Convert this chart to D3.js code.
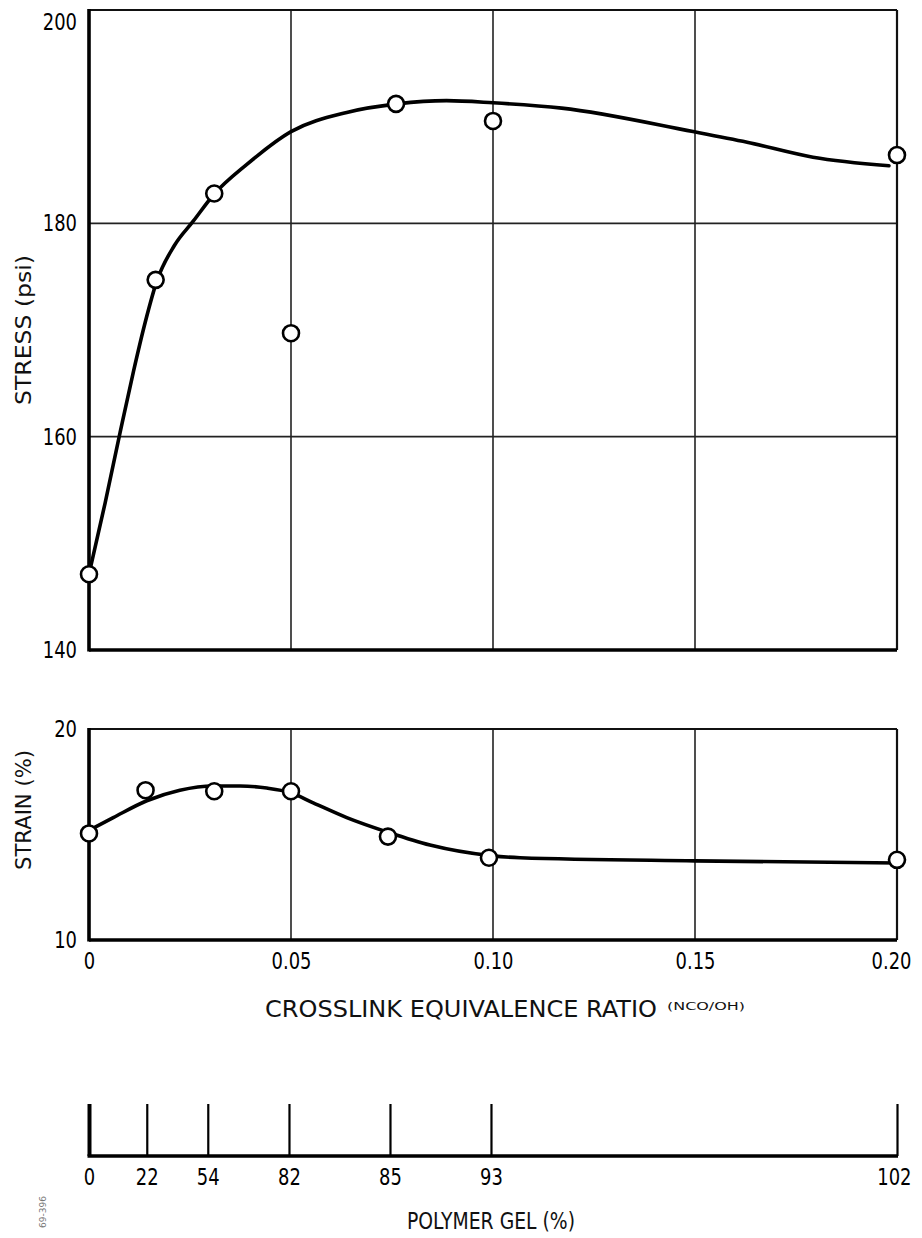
<!DOCTYPE html>
<meta charset="utf-8">
<html>
<script src="https://d3js.org/d3.v7.min.js"></script>
<style>
    body { margin: 0; background: #fff; }
    svg text { font-family: "DejaVu Sans", sans-serif; fill: #111; }
    .tick text { font-size: 23px; fill: #000; }
    .domain { display: none; }
</style>
<body>
<div id="my_dataviz"></div>
<script>

    // crosslink equivalence ratio (NCO/OH) of the measured samples
    var stressX = [0, 0.0165, 0.031, 0.05, 0.076, 0.10, 0.20];
    var stressY = [147.1, 174.7, 182.8, 169.7, 191.2, 189.6, 186.4];

    // faired curve drawn through the stress data
    var stressCurveX = [0, 0.004, 0.0077, 0.011, 0.0139, 0.0168, 0.0211, 0.0258, 0.0309, 0.039, 0.05,
        0.0638, 0.0763, 0.0885, 0.10, 0.117, 0.1495, 0.1629, 0.1792, 0.198];
    var stressCurveY = [147.1, 153.8, 160.4, 166.1, 170.7, 174.6, 177.9, 180.2, 182.7, 185.5, 188.6,
        190.4, 191.2, 191.5, 191.3, 190.8, 188.6, 187.6, 186.2, 185.4];

    var strainX = [0, 0.014, 0.031, 0.05, 0.074, 0.099, 0.20];
    var strainY = [15.05, 17.1, 17.05, 17.05, 14.9, 13.9, 13.8];

    var strainCurveX = [0, 0.006, 0.0143, 0.0225, 0.0308, 0.0374, 0.044, 0.0496, 0.0555, 0.0638,
        0.0741, 0.0844, 0.0994, 0.1067, 0.15, 0.2];
    var strainCurveY = [15.2, 15.8, 16.6, 17.1, 17.3, 17.3, 17.2, 17.0, 16.5, 15.8,
        15.1, 14.5, 14.0, 13.9, 13.75, 13.65];

    // polymer gel scale, placed at the matching crosslink ratio
    var gelX = [0, 0.0143, 0.0294, 0.0495, 0.0745, 0.0995, 0.20];
    var gelLabels = ["0", "22", "54", "82", "85", "93", "102"];

    var xTicks = [0, 0.05, 0.10, 0.15, 0.20];
    var xTickLabels = ["0", "0.05", "0.10", "0.15", "0.20"];
    var stressTicks = [140, 160, 180, 200];
    var strainTicks = [10, 20];

    var W = 922, H = 1238;
    var left = 89, right = 897;

    var svg = d3.select("#my_dataviz")
        .append("svg")
        .attr("width", W)
        .attr("height", H);

    var x = d3.scaleLinear().domain([0, 0.2]).range([left, right]);
    var yStress = d3.scaleLinear().domain([140, 200]).range([650, 10]);
    var yStrain = d3.scaleLinear().domain([10, 20]).range([940, 729]);

    var line = d3.line().curve(d3.curveMonotoneX);

    // no condensed face installed, so squeeze the numerals (they sit at x=0 in each tick)
    var squeeze = 0.78;
    function narrow(sel) {
        sel.attr("transform", "scale(" + squeeze + ",1)");
    }

    // last label at the right edge is set flush right, as in the original
    function flushLast(sel) {
        sel.filter(function (d, i, n) { return i === n.length - 1; })
            .attr("text-anchor", "end")
            .attr("dx", 14 / squeeze);
    }

    function panel(y, ticks, hGrid, curveX, curveY, ptX, ptY) {
        var g = svg.append("g");
        var y0 = y.range()[0], y1 = y.range()[1];

        // vertical grid
        g.selectAll(".vg").data([0.05, 0.10, 0.15]).enter().append("line")
            .attr("x1", function (d) { return x(d); }).attr("x2", function (d) { return x(d); })
            .attr("y1", y0).attr("y2", y1)
            .attr("stroke", "#222").attr("stroke-width", 1.6);
        // horizontal grid
        g.selectAll(".hg").data(hGrid).enter().append("line")
            .attr("x1", left).attr("x2", right)
            .attr("y1", function (d) { return y(d); }).attr("y2", function (d) { return y(d); })
            .attr("stroke", "#222").attr("stroke-width", 1.6);

        // frame: heavy left / bottom, lighter top / right
        g.append("line").attr("x1", left).attr("x2", right).attr("y1", y1).attr("y2", y1)
            .attr("stroke", "#111").attr("stroke-width", 2.2);
        g.append("line").attr("x1", right).attr("x2", right).attr("y1", y1).attr("y2", y0)
            .attr("stroke", "#111").attr("stroke-width", 2.2);
        g.append("line").attr("x1", left).attr("x2", right).attr("y1", y0).attr("y2", y0)
            .attr("stroke", "#000").attr("stroke-width", 3.6);
        g.append("line").attr("x1", left).attr("x2", left).attr("y1", y1 - 1).attr("y2", y0 + 1.5)
            .attr("stroke", "#000").attr("stroke-width", 3.6);

        // y axis labels
        var ax = g.append("g")
            .attr("transform", "translate(" + (left - 12) + ",0)")
            .call(d3.axisLeft(y).tickValues(ticks).tickSize(0).tickPadding(0).tickFormat(d3.format("d")));
        ax.selectAll(".tick text").call(narrow);

        // fitted curve
        var pts = curveX.map(function (d, i) { return [x(d), y(curveY[i])]; });
        g.append("path")
            .attr("d", line(pts))
            .attr("fill", "none")
            .attr("stroke", "#000")
            .attr("stroke-width", 3.6)
            .attr("stroke-linecap", "round");

        // data circles
        g.selectAll("circle").data(ptX).enter().append("circle")
            .attr("cx", function (d) { return x(d); })
            .attr("cy", function (d, i) { return y(ptY[i]); })
            .attr("r", 8)
            .attr("fill", "#fff")
            .attr("stroke", "#000")
            .attr("stroke-width", 2.6);
        return ax;
    }

    var axTop = panel(yStress, stressTicks, [160, 180], stressCurveX, stressCurveY, stressX, stressY);
    // top label sits just inside the frame
    axTop.selectAll(".tick text").filter(function (d) { return d === 200; }).attr("dy", "0.85em");

    panel(yStrain, strainTicks, [], strainCurveX, strainCurveY, strainX, strainY);

    // crosslink ratio tick labels
    svg.append("g")
        .attr("transform", "translate(0,953)")
        .call(d3.axisBottom(x).tickValues(xTicks).tickSize(0).tickPadding(0)
            .tickFormat(function (d, i) { return xTickLabels[i]; }))
        .selectAll(".tick text").call(narrow).call(flushLast);

    // axis titles
    svg.append("text")
        .attr("transform", "translate(31,330) rotate(-90)")
        .attr("text-anchor", "middle")
        .style("font-size", "22px")
        .attr("textLength", 150).attr("lengthAdjust", "spacingAndGlyphs")
        .text("STRESS (psi)");
    svg.append("text")
        .attr("transform", "translate(31,810) rotate(-90)")
        .attr("text-anchor", "middle")
        .style("font-size", "22px")
        .attr("textLength", 120).attr("lengthAdjust", "spacingAndGlyphs")
        .text("STRAIN (%)");

    svg.append("text")
        .attr("x", 265).attr("y", 1017)
        .style("font-size", "23px")
        .attr("textLength", 392).attr("lengthAdjust", "spacingAndGlyphs")
        .text("CROSSLINK EQUIVALENCE RATIO");
    svg.append("text")
        .attr("x", 667).attr("y", 1010)
        .style("font-size", "11px")
        .attr("textLength", 78).attr("lengthAdjust", "spacingAndGlyphs")
        .text("(NCO/OH)");

    // polymer gel scale: upward ticks, labels below the base line
    svg.append("line")
        .attr("x1", x(0) - 1.5).attr("x2", x(0.2) + 1)
        .attr("y1", 1156).attr("y2", 1156)
        .attr("stroke", "#000").attr("stroke-width", 3.4);
    var gelAxis = svg.append("g")
        .attr("transform", "translate(0,1156)")
        .call(d3.axisBottom(x).tickValues(gelX).tickSizeInner(-52).tickSizeOuter(0).tickPadding(13)
            .tickFormat(function (d, i) { return gelLabels[i]; }));
    gelAxis.selectAll(".tick line")
        .attr("stroke", "#000")
        .attr("stroke-width", function (d, i) { return i === 0 ? 4 : 2.2; });
    gelAxis.selectAll(".tick text").call(narrow).call(flushLast);

    svg.append("text")
        .attr("x", 491).attr("y", 1229)
        .attr("text-anchor", "middle")
        .style("font-size", "23px")
        .attr("textLength", 168).attr("lengthAdjust", "spacingAndGlyphs")
        .text("POLYMER GEL (%)");

    svg.append("text")
        .attr("transform", "translate(46,1212) rotate(-90)")
        .attr("text-anchor", "middle")
        .style("font-size", "9px")
        .style("fill", "#777")
        .text("69-396");

</script>
</body>
</html>
